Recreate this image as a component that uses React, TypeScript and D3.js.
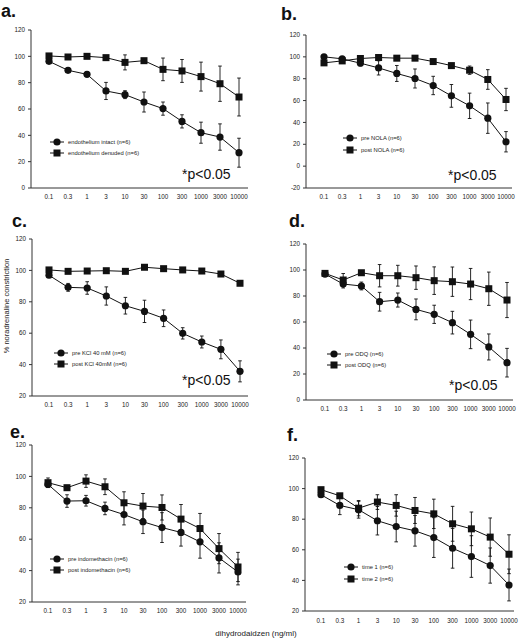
import React from "react";
import * as d3 from "d3";

const doses = ["0.1", "0.3", "1", "3", "10", "30", "100", "300", "1000", "3000", "10000"];

const aIntact = [96.2, 89.4, 86.3, 73.7, 70.9, 65.3, 60.3, 50.6, 42, 38.7, 26.8];
const aIntactSem = [1.5, 1.5, 2, 6.5, 3, 7.6, 5, 5, 8, 10, 11];
const aDenuded = [100.3, 99.5, 100, 99, 95.4, 96.7, 90.1, 88.9, 84.6, 79.2, 69.1];
const aDenudedSem = [0.5, 1, 1, 1, 5.7, 1.5, 8.6, 8.7, 11, 13.4, 14.4];

const bPre = [100, 98.2, 94.2, 89.9, 84.8, 80.2, 73.8, 64.3, 55.2, 43.9, 22.3];
const bPreSem = [1, 1.5, 2.5, 6.5, 7.3, 8.7, 8.4, 10.4, 11.6, 13.9, 9.3];
const bPost = [94.5, 96.3, 98.5, 99.4, 98.8, 98.8, 95.7, 92, 87.8, 79.3, 61];
const bPostSem = [1, 1, 1, 1, 1, 1, 1.5, 2, 3.8, 9, 10.2];

const cPre = [96.9, 89.2, 88.8, 83.7, 77.5, 73.9, 69.5, 59.9, 54.4, 49.7, 35.7];
const cPreSem = [1.5, 2.5, 4, 5.8, 5.3, 7.1, 5.3, 3.6, 3.8, 6, 6.7];
const cPost = [100.3, 99.4, 99.6, 99.8, 99.4, 102, 101.1, 100.3, 99.6, 97.7, 91.8];
const cPostSem = [0.5, 0.5, 0.5, 0.5, 0.5, 0.8, 0.8, 0.5, 0.5, 0.8, 1];

const dPre = [96.9, 89.2, 87.7, 75.6, 76.9, 69.7, 65.9, 59.5, 50.5, 40.8, 28.7];
const dPreSem = [1, 3, 3, 7.2, 5.4, 8, 7, 8.7, 11, 10, 11];
const dPost = [97.4, 92.3, 97.9, 95.6, 95.6, 94.1, 91.8, 91, 89.2, 85.6, 76.9];
const dPostSem = [1, 5, 1.5, 8.6, 8, 9, 10.6, 11.3, 12, 12.8, 13.5];

const ePre = [94.9, 84.3, 84.5, 79.6, 75.7, 71.1, 67.4, 64.3, 58.3, 48.1, 39.1];
const ePreSem = [2, 4, 3.4, 4, 6.6, 7.5, 9.5, 8.7, 10.4, 9.6, 8.2];
const ePost = [96, 92.8, 97, 93.4, 83.2, 81.1, 80.2, 72.8, 66.8, 54, 42.3];
const ePostSem = [3, 1.5, 4, 5, 7, 8, 8, 9.3, 9.6, 9.6, 9.3];

const fTime1 = [96, 89, 86.2, 79, 75.2, 72.4, 68, 61, 55.6, 49.7, 37];
const fTime1Sem = [1.5, 6, 5.5, 9.3, 10, 10, 13, 13, 13.6, 11.5, 10.4];
const fTime2 = [99.3, 95.3, 87.2, 91.2, 89, 85.7, 83.5, 77, 73.7, 68.3, 57.1];
const fTime2Sem = [1, 1, 5, 4.8, 7, 8.5, 9.6, 11.4, 11, 12.5, 12.7];

const panelLetters = ["a.", "b.", "c.", "d.", "e.", "f."];
const legendCircle = ["endothelium intact (n=6)", "pre NOLA (n=6)", "pre KCl 40 mM (n=6)", "pre ODQ (n=6)", "pre indomethacin (n=6)", "time 1 (n=6)"];
const legendSquare = ["endothelium denuded (n=6)", "post NOLA (n=6)", "post KCl 40mM (n=6)", "post ODQ (n=6)", "post indomethacin (n=6)", "time 2 (n=6)"];
const yDomains = [[0, 120], [-20, 120], [20, 120], [0, 120], [20, 120], [20, 120]];
const yTickValues = [
  [0, 20, 40, 60, 80, 100, 120],
  [-20, 0, 20, 40, 60, 80, 100, 120],
  [20, 40, 60, 80, 100, 120],
  [0, 20, 40, 60, 80, 100, 120],
  [20, 40, 60, 80, 100, 120],
  [20, 40, 60, 80, 100, 120],
];
const pText = "*p<0.05";
const yAxisTitle = "% noradrenaline constriction";
const xAxisTitle = "dihydrodaidzen (ng/ml)";

const circleSeries = [aIntact, bPre, cPre, dPre, ePre, fTime1];
const circleSem = [aIntactSem, bPreSem, cPreSem, dPreSem, ePreSem, fTime1Sem];
const squareSeries = [aDenuded, bPost, cPost, dPost, ePost, fTime2];
const squareSem = [aDenudedSem, bPostSem, cPostSem, dPostSem, ePostSem, fTime2Sem];
const showP = [true, true, true, true, false, false];

// layout
const layouts = [
  { ax: 31, yTop: 30, yBot: 188, x0: 49, x1: 239, axEnd: 248, lx: 1, ly: 16.5, legX: 50, legY: 142, legGap: 11, pX: 182, pY: 179, tickY: 199 },
  { ax: 306, yTop: 35, yBot: 188, x0: 324, x1: 506, axEnd: 512, lx: 281, ly: 20, legX: 343, legY: 138, legGap: 12, pX: 448, pY: 180, tickY: 199 },
  { ax: 32, yTop: 239, yBot: 396, x0: 49, x1: 240, axEnd: 248, lx: 12, ly: 227, legX: 54, legY: 353, legGap: 11, pX: 182, pY: 385, tickY: 407 },
  { ax: 306, yTop: 244, yBot: 400, x0: 325, x1: 507, axEnd: 513, lx: 289, ly: 227, legX: 327, legY: 354, legGap: 11, pX: 449, pY: 390, tickY: 411 },
  { ax: 32, yTop: 445, yBot: 602, x0: 48, x1: 238, axEnd: 246, lx: 10, ly: 438, legX: 50, legY: 559, legGap: 11, pX: 0, pY: 0, tickY: 613 },
  { ax: 305, yTop: 458, yBot: 611, x0: 321, x1: 509, axEnd: 514, lx: 287, ly: 441, legX: 344, legY: 567, legGap: 12, pX: 0, pY: 0, tickY: 623 },
];

const FONT = "'Liberation Sans', Arial, Helvetica, sans-serif";
const INK = "#111";

function Panel({ i }: { i: number }) {
  const L = layouts[i];
  const x = d3.scalePoint<string>().domain(doses).range([L.x0, L.x1]);
  const y = d3.scaleLinear().domain(yDomains[i]).range([L.yBot, L.yTop]);
  const line = d3
    .line<number>()
    .x((_, k) => x(doses[k]) as number)
    .y((v) => y(v));
  const r = 3.6;
  const s = 7;
  const cap = 1.8;

  const errBars = (vals: number[], sem: number[], key: string) =>
    vals.map((v, k) => {
      const cx = x(doses[k]) as number;
      const yt = y(v + sem[k]);
      const yb = y(v - sem[k]);
      return (
        <g key={key + k} stroke={INK} strokeWidth={0.9}>
          <line x1={cx} x2={cx} y1={yt} y2={yb} />
          <line x1={cx - cap} x2={cx + cap} y1={yt} y2={yt} />
          <line x1={cx - cap} x2={cx + cap} y1={yb} y2={yb} />
        </g>
      );
    });

  return (
    <g>
      <text x={L.lx} y={L.ly} fontFamily={FONT} fontWeight="bold" fontSize={18} fill={INK}>
        {panelLetters[i]}
      </text>
      {/* axes */}
      <line x1={L.ax} x2={L.ax} y1={L.yTop} y2={L.yBot} stroke="#333" strokeWidth={1} />
      <line x1={L.ax} x2={L.axEnd} y1={L.yBot} y2={L.yBot} stroke="#333" strokeWidth={1} />
      {yTickValues[i].map((t) => (
        <g key={"yt" + t}>
          <line x1={L.ax - 3} x2={L.ax} y1={y(t)} y2={y(t)} stroke="#333" strokeWidth={1} />
          <text x={L.ax - 6} y={y(t) + 2.2} textAnchor="end" fontFamily={FONT} fontSize={6.3} fill="#222">
            {t}
          </text>
        </g>
      ))}
      {doses.map((d) => (
        <text key={"xt" + d} x={x(d)} y={L.tickY} textAnchor="middle" fontFamily={FONT} fontSize={6.3} fill="#222">
          {d}
        </text>
      ))}
      {errBars(circleSeries[i], circleSem[i], "ec")}
      {errBars(squareSeries[i], squareSem[i], "es")}
      <path d={line(circleSeries[i]) || ""} fill="none" stroke={INK} strokeWidth={1} />
      <path d={line(squareSeries[i]) || ""} fill="none" stroke={INK} strokeWidth={1} />
      {circleSeries[i].map((v, k) => (
        <circle key={"c" + k} cx={x(doses[k])} cy={y(v)} r={r} fill={INK} />
      ))}
      {squareSeries[i].map((v, k) => (
        <rect key={"s" + k} x={(x(doses[k]) as number) - s / 2} y={y(v) - s / 2} width={s} height={s} fill={INK} />
      ))}
      {/* legend */}
      <g>
        <line x1={L.legX} x2={L.legX + 14} y1={L.legY} y2={L.legY} stroke={INK} strokeWidth={1} />
        <circle cx={L.legX + 7} cy={L.legY} r={r} fill={INK} />
        <text x={L.legX + 18} y={L.legY + 2} fontFamily={FONT} fontSize={5.8} fill="#222">
          {legendCircle[i]}
        </text>
        <line x1={L.legX} x2={L.legX + 14} y1={L.legY + L.legGap} y2={L.legY + L.legGap} stroke={INK} strokeWidth={1} />
        <rect x={L.legX + 7 - s / 2} y={L.legY + L.legGap - s / 2} width={s} height={s} fill={INK} />
        <text x={L.legX + 18} y={L.legY + L.legGap + 2} fontFamily={FONT} fontSize={5.8} fill="#222">
          {legendSquare[i]}
        </text>
      </g>
      {showP[i] && (
        <text x={L.pX} y={L.pY} fontFamily={FONT} fontSize={14} fill={INK}>
          {pText}
        </text>
      )}
    </g>
  );
}

export default function App() {
  return (
    <svg width={527} height={640} style={{ position: "absolute", left: 0, top: 0, background: "#fff" }}>
      <rect width={527} height={640} fill="#fff" />
      {layouts.map((_, i) => (
        <Panel key={i} i={i} />
      ))}
      <text
        transform="translate(9,306) rotate(-90)"
        textAnchor="middle"
        fontFamily={FONT}
        fontSize={7.5}
        fill="#222"
      >
        {yAxisTitle}
      </text>
      <text x={256} y={636} textAnchor="middle" fontFamily={FONT} fontSize={8} fill="#222">
        {xAxisTitle}
      </text>
    </svg>
  );
}
